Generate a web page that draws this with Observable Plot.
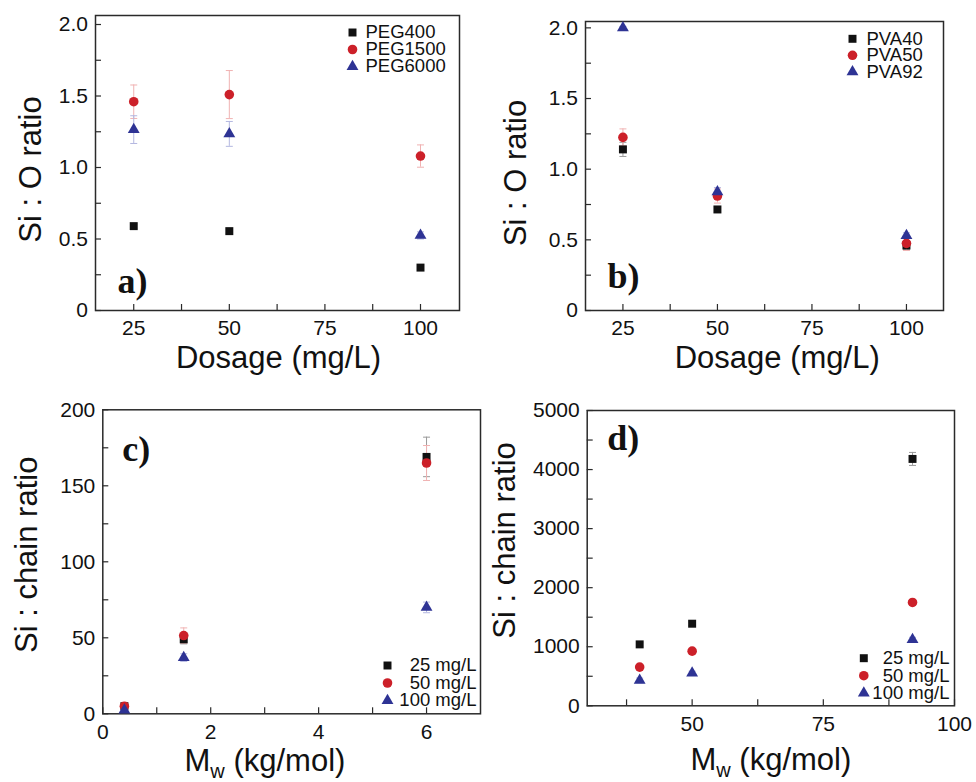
<!DOCTYPE html>
<html><head><meta charset="utf-8">
<script src="https://cdn.jsdelivr.net/npm/d3@7"></script>
<script src="https://cdn.jsdelivr.net/npm/@observablehq/plot@0.6"></script>
<style>
body{margin:0;background:#fff;}
#wrap{position:relative;width:976px;height:782px;overflow:hidden;background:#fff;}
#wrap svg{position:absolute;}
</style></head><body><div id="wrap"></div>
<script>
// ---------- data ----------
const dosage = [25, 50, 100];
const pegNames = ["PEG400", "PEG1500", "PEG6000"];
const peg400 = [0.59, 0.555, 0.30];
const peg400Err = [0.015, 0.015, 0.015];
const peg1500 = [1.46, 1.51, 1.08];
const peg1500Err = [0.117, 0.168, 0.078];
const peg6000 = [1.265, 1.235, 0.525];
const peg6000Err = [0.097, 0.087, 0.025];

const pvaNames = ["PVA40", "PVA50", "PVA92"];
const pva40 = [1.14, 0.715, 0.46];
const pva40Err = [0.05, 0.02, 0.03];
const pva50 = [1.225, 0.81, 0.475];
const pva50Err = [0.06, 0.05, 0.05];
const pva92 = [2.0, 0.84, 0.53];
const pva92Err = [0.01, 0.03, 0.02];

const dosageNames = ["25 mg/L", "50 mg/L", "100 mg/L"];
const pegMw = [0.4, 1.5, 6];
const pegChain25 = [5, 49, 169];
const pegChain25Err = [1, 3, 13];
const pegChain50 = [5, 51.5, 165];
const pegChain50Err = [1, 5, 11.5];
const pegChain100 = [2.5, 37, 70];
const pegChain100Err = [0.5, 2.5, 3.5];

const pvaMw = [40, 50, 92];
const pvaChain25 = [1040, 1390, 4180];
const pvaChain25Err = [30, 30, 110];
const pvaChain50 = [655, 925, 1750];
const pvaChain50Err = [20, 30, 30];
const pvaChain100 = [430, 555, 1120];
const pvaChain100Err = [40, 30, 40];

const dosageTicks = [25, 50, 75, 100];
const dosageTickLabels = ["25", "50", "75", "100"];
const dosageMinor = [37.5, 62.5, 87.5];
const ratioTicks = [0, 0.5, 1, 1.5, 2];
const ratioTickLabels = ["0", "0.5", "1.0", "1.5", "2.0"];
const ratioMinor = [0.25, 0.75, 1.25, 1.75];
const mwTicksC = [0, 2, 4, 6];
const mwTickLabelsC = ["0", "2", "4", "6"];
const mwMinorC = [1, 3, 5];
const chainTicksC = [0, 50, 100, 150, 200];
const chainTickLabelsC = ["0", "50", "100", "150", "200"];
const chainMinorC = [25, 75, 125, 175];
const mwTicksD = [50, 75, 100];
const mwTickLabelsD = ["50", "75", "100"];
const mwMinorD = [37.5, 62.5, 87.5];
const chainTicksD = [0, 1000, 2000, 3000, 4000, 5000];
const chainTickLabelsD = ["0", "1000", "2000", "3000", "4000", "5000"];
const chainMinorD = [500, 1500, 2500, 3500, 4500];

// ---------- style ----------
const symbols = ["square", "circle", "triangle"];
const radii = [4.5, 4.8, 4.4];
const colors = ["#111111", "#cc2029", "#2e3394"];
const errColors = ["#9a9a9a", "#f0b2b2", "#b3b7e0"];
const FONT = "'Liberation Sans', Arial, Helvetica, sans-serif";
const SERIF = "'Liberation Serif', 'Times New Roman', serif";
const cap = {draw(ctx) { ctx.moveTo(-3.5, 0); ctx.lineTo(3.5, 0); }};

function panel(cfg) {
  const fw = cfg.width - cfg.ml - cfg.mr, fh = cfg.height - cfg.mt - cfg.mb;
  const marks = [];
  cfg.series.forEach((s, k) => {
    const rows = s.values.map((v, i) => ({x: cfg.xs[i], y: v, e: s.errors[i]}));
    marks.push(Plot.ruleX(rows, {x: "x", y1: d => d.y - d.e, y2: d => d.y + d.e, stroke: errColors[k], strokeWidth: 1}));
    marks.push(Plot.dot(rows, {x: "x", y: d => d.y + d.e, symbol: cap, r: 1, stroke: errColors[k], strokeWidth: 1}));
    marks.push(Plot.dot(rows, {x: "x", y: d => d.y - d.e, symbol: cap, r: 1, stroke: errColors[k], strokeWidth: 1}));
  });
  marks.push(Plot.frame({stroke: "#2a2a2a", strokeWidth: 1.5}));
  marks.push(Plot.tickY(cfg.yTicks.concat(cfg.yMinor), {y: d => d, stroke: "#2a2a2a", strokeWidth: 1.2, insetRight: fw - 6}));
  marks.push(Plot.tickX(cfg.xTicks.concat(cfg.xMinor), {x: d => d, stroke: "#2a2a2a", strokeWidth: 1.2, insetTop: fh - 6}));
  marks.push(Plot.axisX(cfg.xTicks, {tickSize: 0, tickPadding: 10, label: null, fontSize: 21, fill: "#111",
    tickFormat: d => cfg.xLabels[cfg.xTicks.indexOf(d)]}));
  marks.push(Plot.axisY(cfg.yTicks, {tickSize: 0, tickPadding: 7.5, label: null, fontSize: 21, fill: "#111",
    tickFormat: d => cfg.yLabels[cfg.yTicks.indexOf(d)]}));
  cfg.series.forEach((s, k) => {
    const rows = s.values.map((v, i) => ({x: cfg.xs[i], y: v}));
    marks.push(Plot.dot(rows, {x: "x", y: "y", symbol: symbols[k], r: radii[k], fill: colors[k]}));
  });
  // legend
  const L = cfg.legend;
  cfg.series.forEach((s, k) => {
    marks.push(Plot.dot([s.name], {frameAnchor: L.anchor, dx: L.mdx, dy: L.dy0 + k * L.step,
      symbol: symbols[k], r: radii[k], fill: colors[k]}));
    marks.push(Plot.text([s.name], {text: d => d, frameAnchor: L.anchor, dx: L.tdx, dy: L.dy0 + k * L.step,
      textAnchor: L.textAnchor, lineAnchor: "middle", fontSize: 18.5, fill: "#111"}));
  });
  // panel label
  marks.push(Plot.text([cfg.tag], {text: d => d, frameAnchor: cfg.tagPos.anchor, dx: cfg.tagPos.dx, dy: cfg.tagPos.dy,
    textAnchor: "start", lineAnchor: "bottom", fontFamily: SERIF, fontWeight: "bold", fontSize: 36, fill: "#111"}));
  // axis titles
  marks.push(Plot.text([cfg.xTitle], {text: d => d, frameAnchor: "bottom", dx: cfg.xTitlePos.dx, dy: cfg.xTitlePos.dy,
    textAnchor: "middle", lineAnchor: "bottom", fontSize: 31, fill: "#111"}));
  marks.push(Plot.text([cfg.yTitle], {text: d => d, frameAnchor: "left", dx: cfg.yTitlePos.dx, dy: cfg.yTitlePos.dy,
    rotate: -90, textAnchor: "middle", lineAnchor: "middle", fontSize: 31, fill: "#111"}));

  const svg = Plot.plot({
    width: cfg.width, height: cfg.height,
    marginLeft: cfg.ml, marginRight: cfg.mr, marginTop: cfg.mt, marginBottom: cfg.mb,
    x: {domain: cfg.xDomain},
    y: {domain: cfg.yDomain},
    style: {fontFamily: FONT, fontSize: "21px", color: "#111", background: "transparent", overflow: "visible"},
    marks
  });
  svg.style.left = cfg.left + "px";
  svg.style.top = cfg.top + "px";
  // subscript in Mw
  if (cfg.sub) {
    d3.select(svg).selectAll("text").filter(function() { return this.textContent === cfg.xTitle; })
      .each(function() {
        const t = d3.select(this);
        t.text(null);
        t.append("tspan").text(cfg.xTitle.slice(0, 1));
        t.append("tspan").attr("dy", 7).attr("font-size", 20).text(cfg.xTitle.slice(1, 2));
        t.append("tspan").attr("dy", -7).text(cfg.xTitle.slice(2));
      });
  }
  document.getElementById("wrap").appendChild(svg);
}

panel({
  left: 0, top: 0, width: 488, height: 391, ml: 95, mr: 29, mt: 15, mb: 81,
  xDomain: [15, 110.2], yDomain: [0, 2.063], xs: dosage,
  xTicks: dosageTicks, xLabels: dosageTickLabels, xMinor: dosageMinor,
  yTicks: ratioTicks, yLabels: ratioTickLabels, yMinor: ratioMinor,
  series: [
    {name: pegNames[0], values: peg400, errors: peg400Err},
    {name: pegNames[1], values: peg1500, errors: peg1500Err},
    {name: pegNames[2], values: peg6000, errors: peg6000Err}
  ],
  legend: {anchor: "top-right", mdx: -107, tdx: -94, dy0: 17, step: 17, textAnchor: "start"},
  tag: "a)", tagPos: {anchor: "bottom-left", dx: 22, dy: -18},
  xTitle: "Dosage (mg/L)", xTitlePos: {dx: 1, dy: 57},
  yTitle: "Si : O ratio", yTitlePos: {dx: -64, dy: 6.5}
});

panel({
  left: 488, top: 0, width: 488, height: 391, ml: 97, mr: 33, mt: 21, mb: 81,
  xDomain: [15.1, 109.8], yDomain: [0, 2.045], xs: dosage,
  xTicks: dosageTicks, xLabels: dosageTickLabels, xMinor: dosageMinor,
  yTicks: ratioTicks, yLabels: ratioTickLabels, yMinor: ratioMinor,
  series: [
    {name: pvaNames[0], values: pva40, errors: pva40Err},
    {name: pvaNames[1], values: pva50, errors: pva50Err},
    {name: pvaNames[2], values: pva92, errors: pva92Err}
  ],
  legend: {anchor: "top-right", mdx: -91, tdx: -77, dy0: 17.3, step: 16.5, textAnchor: "start"},
  tag: "b)", tagPos: {anchor: "bottom-left", dx: 22, dy: -23},
  xTitle: "Dosage (mg/L)", xTitlePos: {dx: 12.7, dy: 57},
  yTitle: "Si : O ratio", yTitlePos: {dx: -69, dy: 7}
});

panel({
  left: 0, top: 391, width: 488, height: 391, ml: 102.3, mr: 8, mt: 18.3, mb: 68.7,
  xDomain: [0, 7], yDomain: [0, 200], xs: pegMw,
  xTicks: mwTicksC, xLabels: mwTickLabelsC, xMinor: mwMinorC,
  yTicks: chainTicksC, yLabels: chainTickLabelsC, yMinor: chainMinorC,
  series: [
    {name: dosageNames[0], values: pegChain25, errors: pegChain25Err},
    {name: dosageNames[1], values: pegChain50, errors: pegChain50Err},
    {name: dosageNames[2], values: pegChain100, errors: pegChain100Err}
  ],
  legend: {anchor: "bottom-right", mdx: -93, tdx: -4, dy0: -48.3, step: 17.5, textAnchor: "end"},
  tag: "c)", tagPos: {anchor: "top-left", dx: 19.5, dy: 51},
  xTitle: "Mw (kg/mol)", sub: true, xTitlePos: {dx: -26.7, dy: 57.5},
  yTitle: "Si : chain ratio", yTitlePos: {dx: -75.6, dy: -7}
});

panel({
  left: 488, top: 391, width: 488, height: 391, ml: 98.7, mr: 22, mt: 19, mb: 76.7,
  xDomain: [30, 100], yDomain: [0, 5000], xs: pvaMw,
  xTicks: mwTicksD, xLabels: mwTickLabelsD, xMinor: mwMinorD,
  yTicks: chainTicksD, yLabels: chainTickLabelsD, yMinor: chainMinorD,
  series: [
    {name: dosageNames[0], values: pvaChain25, errors: pvaChain25Err},
    {name: dosageNames[1], values: pvaChain50, errors: pvaChain50Err},
    {name: dosageNames[2], values: pvaChain100, errors: pvaChain100Err}
  ],
  legend: {anchor: "bottom-right", mdx: -90.7, tdx: -5, dy0: -47.6, step: 17.5, textAnchor: "end"},
  tag: "d)", tagPos: {anchor: "top-left", dx: 20, dy: 39.5},
  xTitle: "Mw (kg/mol)", sub: true, xTitlePos: {dx: 0, dy: 64},
  yTitle: "Si : chain ratio", yTitlePos: {dx: -81.7, dy: -17.7}
});
</script></body></html>
